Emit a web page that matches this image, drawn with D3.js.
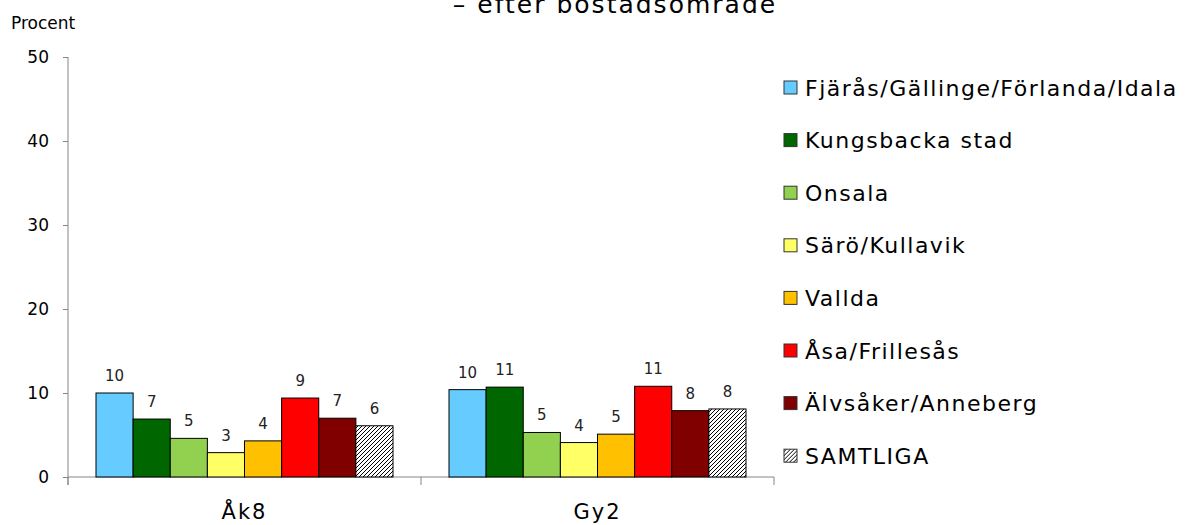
<!DOCTYPE html>
<html>
<head>
<meta charset="utf-8">
<script src="https://cdn.jsdelivr.net/npm/d3@7"></script>
<style>
  body { margin: 0; background: #fff; }
  svg { display: block; font-family: "DejaVu Sans", Verdana, sans-serif; }
</style>
</head>
<body>
<div id="chart"></div>
<script>
// Chart data
const groups = ["Åk8", "Gy2"];
const areas = [
  "Fjärås/Gällinge/Förlanda/Idala",
  "Kungsbacka stad",
  "Onsala",
  "Särö/Kullavik",
  "Vallda",
  "Åsa/Frillesås",
  "Älvsåker/Anneberg",
  "SAMTLIGA"
];
const valuesAk8 = [10.0, 6.9, 4.6, 2.9, 4.3, 9.4, 7.0, 6.1];
const valuesGy2 = [10.4, 10.7, 5.3, 4.1, 5.1, 10.8, 7.9, 8.1];
const yTicks = [0, 10, 20, 30, 40, 50];
const colors = ["#66ccff", "#006600", "#92d050", "#ffff66", "#ffc000", "#ff0000", "#800000", "url(#hatch)"];

const width = 1188, height = 525;
const margin = { top: 57, right: 414, bottom: 48, left: 68 };

const svg = d3.select("#chart")
  .append("svg")
  .attr("width", width)
  .attr("height", height);

// hatch pattern for SAMTLIGA
const pat = svg.append("defs").append("pattern")
  .attr("id", "hatch")
  .attr("patternUnits", "userSpaceOnUse")
  .attr("width", 4)
  .attr("height", 4);
pat.append("rect").attr("width", 4).attr("height", 4).attr("fill", "#fff");
pat.append("path")
  .attr("d", "M-1,1 l2,-2 M0,4 l4,-4 M3,5 l2,-2")
  .attr("stroke", "#000")
  .attr("stroke-width", 1);

const y = d3.scaleLinear().domain([0, 50]).range([height - margin.bottom, margin.top]);
const x0 = d3.scaleBand().domain(groups).range([margin.left, width - margin.right]);
const x1 = d3.scaleBand().domain(areas).range([28, x0.bandwidth() - 28]);

// title (second line, upper part cut off as in the original)
svg.append("text")
  .attr("x", 615)
  .attr("y", 13)
  .attr("text-anchor", "middle")
  .attr("font-size", 25)
  .attr("letter-spacing", 2)
  .attr("fill", "#000")
  .text("– efter bostadsområde");

svg.append("text")
  .attr("x", 11)
  .attr("y", 29)
  .attr("font-size", 17)
  .attr("fill", "#000")
  .text("Procent");

// y axis
const yAxis = svg.append("g")
  .attr("transform", `translate(${margin.left},0)`)
  .call(d3.axisLeft(y).tickValues(yTicks).tickSize(5).tickPadding(14).tickSizeOuter(0));
yAxis.select(".domain").remove();
yAxis.selectAll(".tick line").attr("stroke", "#868686");
yAxis.selectAll(".tick text")
  .attr("font-size", 17)
  .attr("font-family", "DejaVu Sans, sans-serif")
  .attr("fill", "#000");
svg.append("line")
  .attr("x1", margin.left).attr("x2", margin.left)
  .attr("y1", y(50)).attr("y2", y(0) + 8)
  .attr("stroke", "#868686");

// x axis
const baseY = y(0);
svg.append("line")
  .attr("x1", margin.left).attr("x2", width - margin.right)
  .attr("y1", baseY).attr("y2", baseY)
  .attr("stroke", "#868686");
const bounds = [x0(groups[0]), ...groups.map(g => x0(g) + x0.bandwidth())];
svg.selectAll(".xtick")
  .data(bounds)
  .enter()
  .append("line")
  .attr("x1", d => d).attr("x2", d => d)
  .attr("y1", baseY).attr("y2", baseY + 8)
  .attr("stroke", "#868686");
svg.selectAll(".xlabel")
  .data(groups)
  .enter()
  .append("text")
  .attr("x", d => x0(d) + x0.bandwidth() / 2)
  .attr("y", 519)
  .attr("text-anchor", "middle")
  .attr("font-size", 21)
  .attr("letter-spacing", 2)
  .attr("fill", "#000")
  .text(d => d);

// bars
const groupData = [valuesAk8, valuesGy2];
const fmt = d3.format(".0f");
groups.forEach((g, gi) => {
  const rows = areas.map((a, i) => ({ area: a, value: groupData[gi][i], color: colors[i] }));
  const gg = svg.append("g").attr("transform", `translate(${x0(g)},0)`);
  gg.selectAll("rect")
    .data(rows)
    .enter()
    .append("rect")
    .attr("x", d => x1(d.area))
    .attr("y", d => y(d.value))
    .attr("width", x1.bandwidth())
    .attr("height", d => baseY - y(d.value))
    .attr("fill", d => d.color)
    .attr("stroke", "#000")
    .attr("stroke-width", 1);
  gg.selectAll(".val")
    .data(rows)
    .enter()
    .append("text")
    .attr("x", d => x1(d.area) + x1.bandwidth() / 2)
    .attr("y", d => y(d.value) - 12)
    .attr("text-anchor", "middle")
    .attr("font-size", 15)
    .attr("fill", "#222")
    .text(d => fmt(d.value));
});

// legend
const legend = svg.append("g").attr("transform", "translate(784,87.5)");
const items = legend.selectAll(".item")
  .data(areas)
  .enter()
  .append("g")
  .attr("transform", (d, i) => `translate(0,${i * 52.6})`);
items.append("rect")
  .attr("x", 0).attr("y", -6.5)
  .attr("width", 13).attr("height", 13)
  .attr("fill", (d, i) => colors[i])
  .attr("stroke", "#333");
items.append("text")
  .attr("x", 21)
  .attr("y", 8)
  .attr("font-size", 22)
  .attr("letter-spacing", 1.5)
  .attr("fill", "#000")
  .text(d => d);
</script>
</body>
</html>
